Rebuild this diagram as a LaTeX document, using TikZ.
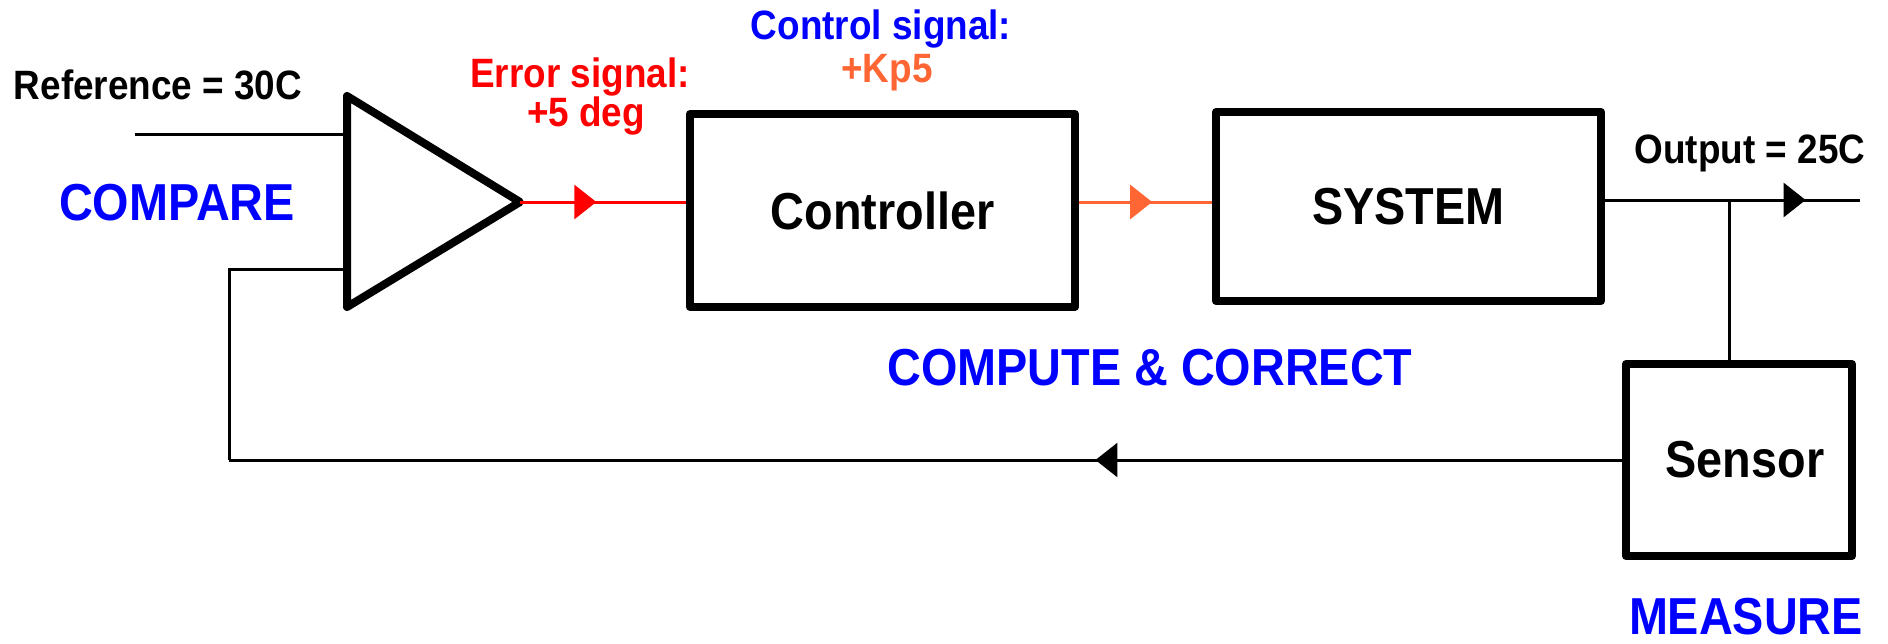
\documentclass[tikz,border=0pt]{standalone}
\usepackage{fontspec}
\setmainfont{Liberation Sans}[FakeStretch=0.9]
\usetikzlibrary{arrows.meta,decorations.markings}
\definecolor{myblue}{RGB}{0,0,255}
\definecolor{myred}{RGB}{255,0,0}
\definecolor{myorange}{RGB}{255,102,51}
\tikzset{
  blockbox/.style={draw=black,line width=8pt,line join=round,minimum width=#1,inner sep=0pt,font=\fontsize{52}{56}\selectfont\bfseries},
  thinline/.style={line width=3pt},
  midarrow/.style={postaction={decorate},decoration={markings,mark=at position #1 with {\arrow{Triangle[length=22pt,width=34pt]}}}},
  small/.style={anchor=base,inner sep=0pt,font=\fontsize{41}{45}\selectfont\bfseries},
  big/.style={anchor=base,inner sep=0pt,font=\fontsize{52}{56}\selectfont\bfseries,text=myblue},
}
\begin{document}
\begin{tikzpicture}[x=1pt,y=-1pt]
\useasboundingbox (0,0) rectangle (1888,643);
% comparator triangle
\coordinate (tA) at (347,96);
\coordinate (tB) at (347,307);
\coordinate (tC) at (520,202);
\coordinate (in1) at (347,134);
\coordinate (in2) at (347,269);
\coordinate (refstart) at (135,134);
\draw[line width=8pt,line join=round] (tA) -- (tC) -- (tB) -- cycle;
% blocks
\node[blockbox=385pt,minimum height=193pt] (ctrl) at (882.5,210.5) {Controller};
\node[blockbox=385pt,minimum height=189pt] (sys) at (1408.5,206.5) {SYSTEM};
\node[blockbox=226pt,minimum height=192pt] (sensor) at (1739,460) {\hspace*{12pt}\raisebox{-12pt}{Sensor}};
% coordinates
\coordinate (sysout) at (1601,200);
\coordinate (jn) at (1729,200);
\coordinate (outend) at (1860,200);
\coordinate (fb) at (229,460);
% connectors
\draw[thinline] (refstart) -- (in1);
\draw[thinline,myred,midarrow=0.46] (tC) -- (ctrl.west |- tC);
\draw[thinline,myorange,midarrow=0.55] (ctrl.east |- tC) -- (sys.west |- tC);
\draw[thinline,midarrow=0.79] (sysout) -- (outend);
\draw[thinline] (jn) -- (jn |- sensor.north);
\draw[thinline,midarrow=0.378] (sensor.west) -- (fb);
\draw[thinline] (fb) |- (in2);
% labels
\node[small] (lref) at (158,99) {Reference = 30C};
\node[big] (lcomp) at (177,220) {COMPARE};
\node[small,text=myred] (lerr1) at (580,87) {Error signal:};
\node[small,text=myred] (lerr2) at (586,126) {+5 deg};
\node[small,text=myblue] (lctl1) at (881,39) {Control signal:};
\node[small,text=myorange] (lctl2) at (887,82) {+Kp5};
\node[small] (lout) at (1750,163) {Output = 25C};
\node[big] (lcc) at (1150,385) {COMPUTE \& CORRECT};
\node[big] (lmeas) at (1746,634) {MEASURE};
\end{tikzpicture}
\end{document}
